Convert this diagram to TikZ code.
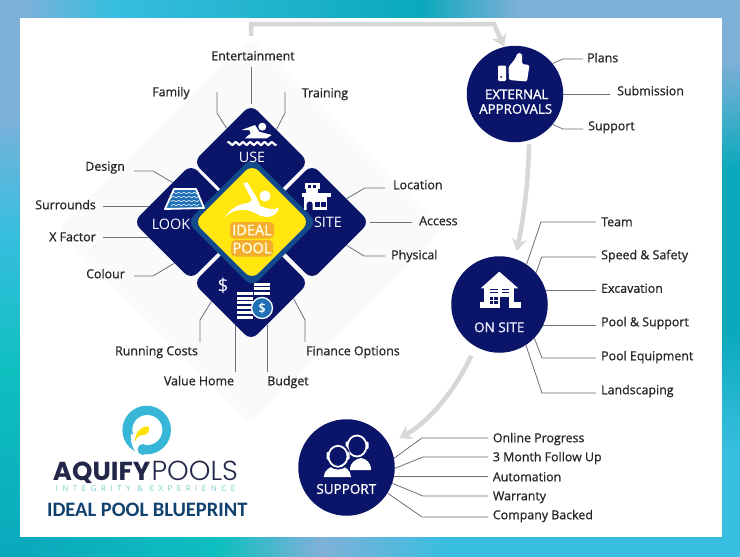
\documentclass[tikz,border=0pt]{standalone}
\usepackage{fontspec}
\setmainfont{Open Sans}
\newfontfamily\lblfont{Open Sans}[FakeBold=0.8]
\newfontfamily\capfont{Open Sans}[FakeBold=1.2]
\newfontfamily\wordbold{Poppins}[UprightFont=* Bold]
\newfontfamily\wordlight{Poppins}[UprightFont=* Light]
\newfontfamily\tagfont{Open Sans}[LetterSpace=56]
\newfontfamily\bluefont{Carlito}[UprightFont=* Bold]
\usetikzlibrary{shapes.geometric,arrows.meta}
\definecolor{navy}{HTML}{0A1468}
\definecolor{ringblue}{HTML}{124A8C}
\definecolor{sunny}{HTML}{FFE60F}
\definecolor{wiregray}{HTML}{6C7080}
\definecolor{flowgray}{HTML}{D6D7D7}
\definecolor{paneblue}{HTML}{1F6FB5}
\definecolor{skyA}{HTML}{7FB0D8}
\definecolor{skyB}{HTML}{38BEE0}
\definecolor{tealA}{HTML}{0AA9BC}
\definecolor{tealB}{HTML}{0FBFC0}
\definecolor{logoblue}{HTML}{38B6D8}
\definecolor{glow}{HTML}{F4AE2E}
\definecolor{wordnavy}{HTML}{23284A}
\definecolor{tagteal}{HTML}{7CCBCD}
\definecolor{printblue}{HTML}{11426F}
\begin{document}
\begin{tikzpicture}
[
  x=1pt,y=-1pt,
  lbl/.style={inner xsep=4pt,inner ysep=4pt,text height=9pt,text depth=2.5pt,font=\lblfont\fontsize{12.4}{14}\selectfont,text=black!85},
  tilecap/.style={inner sep=0pt,text=white,font=\fontsize{14.4}{17}\selectfont},
  disccap/.style={inner sep=0pt,text=white,font=\capfont\fontsize{13.3}{15}\selectfont},
  tile/.style={diamond,shape aspect=1,minimum size=115.5pt,inner sep=0pt,rounded corners=9pt,fill=navy},
  disc/.style={circle,minimum size=96.5pt,inner sep=0pt,fill=navy},
  wire/.style={draw=wiregray,line width=0.8pt},
  flow/.style={draw=flowgray,line width=4.5pt,-{Stealth[length=12pt,width=15pt,inset=4pt]}}
]
\useasboundingbox (0,0) rectangle (740,557);

\foreach \ya/\yb/\ca/\cb in {0/110/skyA/skyA,110/230/skyA/skyB,230/370/skyB/tealB,370/557/tealB/tealA}
  \shade[top color=\ca,bottom color=\cb] (0,\ya) rectangle (20,\yb);
\foreach \ya/\yb/\ca/\cb in {0/60/skyA/skyA,60/170/skyA/tealA,170/330/tealA/tealA,330/450/tealA/skyB,450/557/skyB/skyB}
  \shade[top color=\ca,bottom color=\cb] (722,\ya) rectangle (740,\yb);
\foreach \xa/\xb/\ca/\cb in {20/110/skyA/skyB,110/420/skyB/tealA,420/520/tealA/skyA,520/722/skyA/skyA}
  \shade[left color=\ca,right color=\cb] (\xa,0) rectangle (\xb,18);
\foreach \xa/\xb/\ca/\cb in {20/220/tealA/tealB,220/320/tealB/skyA,320/450/skyA/skyB,450/722/skyB/skyB}
  \shade[left color=\ca,right color=\cb] (\xa,537) rectangle (\xb,557);
\fill[white] (20,18) rectangle (722,537);

\fill[black!2,rounded corners=8pt] (250,38) -- (442,230) -- (250,424) -- (58,230) -- cycle;

\node[tile] (use) at (251,162) {};
\node[tile] (look) at (191,222) {};
\node[tile] (site) at (312,222) {};
\node[tile] (cost) at (251,283) {};
\node[diamond,shape aspect=1,minimum size=130pt,inner sep=0pt,rounded corners=9pt,fill=ringblue] (halo) at (252,222) {};
\node[diamond,shape aspect=1,minimum size=115.5pt,inner sep=0pt,rounded corners=9pt,fill=sunny] (pool) at (252,222) {};

\node[disc] (ext) at (515,94) {};
\node[disc] (onsite) at (499.5,304.5) {};
\node[disc] (supp) at (346.5,467.5) {};

\coordinate (eTop) at (251,36);
\draw[flow] (eTop) -- (251,24) -- (494,24) -- (ext.103);
\draw[flow,shorten <=4pt,shorten >=8pt] (ext.-73) .. controls (528,185) and (524,215) .. (onsite.71);
\draw[flow,shorten <=10pt,shorten >=12pt] (onsite.-120) .. controls (458,385) and (432,420) .. (supp.29);

% use
\node[lbl] (lEnter) at (253,57) {Entertainment};
\node[lbl] (lFamily) at (171,93) {Family};
\node[lbl] (lTrain) at (325,94) {Training};
\coordinate (eFamily) at (217,92);
\coordinate (eTrain) at (285,92);
\draw[wire] (use.north) -- (use.north |- lEnter.south);
\draw[wire] (use.126) -- (217,113) -- (eFamily);
\draw[wire] (use.52) -- (285,113) -- (eTrain);

% look
\node[lbl,anchor=east,inner xsep=9pt] (lDesign) at (134,167.5) {Design};
\node[lbl,anchor=east,inner xsep=7pt] (lSurr) at (103,206) {Surrounds};
\node[lbl,anchor=east,inner xsep=7pt] (lX) at (103,238) {X Factor};
\node[lbl,anchor=east,inner xsep=9pt] (lColour) at (134,275) {Colour};
\draw[wire] (look.115) -- (153,171) -- (lDesign.east |- 0,171);
\draw[wire] (look.160) -- (lSurr.east |- look.160);
\draw[wire] (look.-160) -- (lX.east |- look.-160);
\draw[wire] (look.-112) -- (153,276) -- (lColour.east |- 0,276);

% site
\node[lbl,anchor=west,inner xsep=8pt] (lLoc) at (385,186) {Location};
\node[lbl,anchor=west,inner xsep=7pt] (lAccess) at (412,222) {Access};
\node[lbl,anchor=west,inner xsep=6pt] (lPhys) at (385,256) {Physical};
\draw[wire] (site.34) -- (365,188) -- (lLoc.west |- 0,188);
\draw[wire] (site.east) -- (lAccess.west);
\draw[wire] (site.-34) -- (364,256) -- (lPhys.west);

% cost
\node[lbl] (lRun) at (156.5,352) {Running Costs};
\node[lbl] (lValue) at (199,382) {Value Home};
\node[lbl] (lBudget) at (288,382) {Budget};
\node[lbl] (lFin) at (353,352) {Finance Options};
\draw[wire] (cost.-155) -- (200,320) -- (200,320 |- lRun.north);
\draw[wire] (cost.-111) -- (cost.-111 |- lValue.north);
\draw[wire] (cost.-69) -- (cost.-69 |- lBudget.north);
\draw[wire] (cost.-20) -- (305,320) -- (305,320 |- lFin.north);

% external approvals
\node[lbl,anchor=west] (lPlans) at (583,59) {Plans};
\node[lbl,anchor=west,inner xsep=7pt] (lSub) at (610,92) {Submission};
\node[lbl,anchor=west,inner xsep=5pt] (lSupport) at (583,127) {Support};
\draw[wire] (ext.39) -- (563,59) -- (lPlans.west);
\draw[wire] (ext.east) -- (lSub.west |- 0,94);
\draw[wire] (ext.-39) -- (563,129) -- (lSupport.west |- 0,129);

% on site
\node[lbl,anchor=west,inner xsep=5pt] (lTeam) at (596,223) {Team};
\node[lbl,anchor=west,inner xsep=5pt] (lSpeed) at (596,256) {Speed \& Safety};
\node[lbl,anchor=west,inner xsep=5pt] (lExc) at (596,289.5) {Excavation};
\node[lbl,anchor=west,inner xsep=5pt] (lPoolS) at (596,323) {Pool \& Support};
\node[lbl,anchor=west,inner xsep=5pt] (lEquip) at (596,357) {Pool Equipment};
\node[lbl,anchor=west,inner xsep=5pt] (lLand) at (596,391) {Landscaping};
\draw[wire] (onsite.56.5) -- (541,222) -- (lTeam.west |- 0,222);
\draw[wire] (onsite.41) -- (541.7,257) -- (lSpeed.west |- 0,257);
\draw[wire] (onsite.17) -- (lExc.west |- onsite.17);
\draw[wire] (onsite.-25) -- (lPoolS.west |- onsite.-25);
\draw[wire] (onsite.-44) -- (542,358) -- (lEquip.west |- 0,358);
\draw[wire] (onsite.-57) -- (542,393) -- (lLand.west |- 0,393);

% support
\node[lbl,anchor=west,inner xsep=4.7pt] (lOnline) at (488,439) {Online Progress};
\node[lbl,anchor=west,inner xsep=4.7pt] (lMonth) at (488,458) {3 Month Follow Up};
\node[lbl,anchor=west,inner xsep=4.7pt] (lAuto) at (488,478) {Automation};
\node[lbl,anchor=west,inner xsep=4.7pt] (lWarr) at (488,497) {Warranty};
\node[lbl,anchor=west,inner xsep=4.7pt] (lComp) at (488,516) {Company Backed};
\draw[wire] (supp.11) -- (422,438) -- (lOnline.west |- 0,438);
\draw[wire] (supp.-1) -- (423,457) -- (lMonth.west |- 0,457);
\draw[wire] (supp.-10) -- (lAuto.west |- supp.-10);
\draw[wire] (supp.-19) -- (423,496) -- (lWarr.west |- 0,496);
\draw[wire] (supp.-32) -- (422,517) -- (lComp.west |- 0,517);

% tile texts
\node[tilecap] (tUse) at (252,157) {USE};
\node[tilecap] (tLook) at (171,224) {LOOK};
\node[tilecap] (tSite) at (328,222) {SITE};
\node[tilecap,font=\fontsize{19}{21}\selectfont] (tDollar) at (223,286) {\$};

% swimmer
\fill[white] (262.3,126.7) circle (4pt);
\fill[white] (241.7,130) -- (255,125) -- (259.3,131.7) -- (271.7,135) -- (266.7,138.3) -- (245,138.3) -- (250.7,133.3) -- (249.3,130) -- cycle;
\draw[white,line width=2.2pt,line cap=round] plot[domain=228:276,samples=60] (\x,{143.5+1.3*sin(\x*50)});

% pool
\draw[white,line width=1.8pt,line join=round,fill=paneblue] (174,189) -- (196,189) -- (204,208) -- (165,209) -- cycle;
\foreach \y in {193,197,201,205}
  \draw[white,line width=0.5pt] plot[domain=171:199,samples=30] (\x,{\y+0.7*sin(\x*70)});

% building
\fill[white] (305,183.3) rectangle (320,189);
\fill[white] (306,189) rectangle (318,192.7);
\fill[white] (301.7,192.7) rectangle (330.7,196.7);
\fill[white] (304,196.7) rectangle (326.7,210);
\fill[navy] (306.7,210) -- (306.7,204.5) arc[start angle=180,end angle=0,radius=3pt] -- (312.7,210) -- cycle;
\fill[navy] (315,202.3) rectangle (319.5,206.7);
\fill[navy] (321,202.3) rectangle (325.5,206.7);
\fill[navy] (308,185) rectangle (311,187.5);
\fill[navy] (313,185) rectangle (316,187.5);

% ideal pool
\fill[white] (265,196) circle (5.5pt);
\fill[white] (243.3,183.3) -- (247.3,182.3) -- (256.7,198) -- (260,205) -- (246.7,204.3) -- (252,200) -- cycle;
\fill[white] (225,216.7) .. controls (234,204) and (248,201) .. (256,204) .. controls (265,208) and (272,211) .. (279,207.7) .. controls (277,216) and (267,220) .. (257,214) .. controls (247,208) and (235,208) .. (225,216.7) -- cycle;
\fill[glow,rounded corners=4pt] (230,222) rectangle (274,238.5);
\fill[glow,rounded corners=4pt] (231,240) rectangle (273,256.5);
\node[tilecap,font=\capfont\fontsize{14.5}{17}\selectfont,text=yellow!12] (tIdeal) at (252,230) {IDEAL};
\node[tilecap,font=\capfont\fontsize{14.5}{17}\selectfont,text=yellow!12] (tPool) at (252,248) {POOL};

% coins
\foreach \y in {292,296.7,301.4,306.1,310.8,315.5}
  \fill[white] (237,\y) rectangle (253,\y+3);
\foreach \y in {283,287.4,291.8}
  \fill[white] (254,\y) rectangle (270,\y+3);
\node[circle,draw=white,line width=1.3pt,fill=paneblue,minimum size=21pt,inner sep=0pt,text=white,font=\capfont\fontsize{13}{15}\selectfont] (coin) at (262,308) {\$};

% thumb
\fill[white,rounded corners=1.2pt] (498,65.5) rectangle (506,81);
\fill[navy] (501,77) circle (1pt);
\fill[white,rounded corners=1.5pt] (508.5,67) -- (515,59) -- (517.5,53) -- (522,53.5) -- (522,64) -- (529.5,65) -- (527,81.5) -- (509,80) -- cycle;
\node[disccap] (tExt) at (516.7,94.3) {EXTERNAL};
\node[disccap] (tApp) at (515.7,109) {APPROVALS};

% house
\fill[white] (499.3,271.7) -- (518.3,288.3) -- (480.7,288.3) -- cycle;
\fill[white] (484,288) rectangle (514,308);
\fill[white] (480,302) rectangle (485,308);
\fill[white] (514,302) rectangle (521,308);
\fill[navy] (500,297) rectangle (509,308);
\fill[navy] (490,288.5) rectangle (498,290);
\fill[navy] (490,291.5) rectangle (498,293);
\fill[navy] (502,288.5) rectangle (509,290);
\fill[navy] (502,291.5) rectangle (509,293);
\fill[navy] (489.5,297) rectangle (497.5,304);
\draw[white,line width=0.7pt] (493.5,297) -- (493.5,304) (489.5,300.5) -- (497.5,300.5);
\node[disccap,font=\capfont\fontsize{13.5}{16}\selectfont,text=blue!8] (tOn) at (499.3,327.3) {ON SITE};

% agents
\fill[white] (350,470) .. controls (350,462) and (356,459) .. (361,458) .. controls (366,459) and (371,462) .. (371,470) -- cycle;
\draw[white,line width=1.8pt,fill=navy] (357,446) ellipse (9.5pt and 10.5pt);
\fill[white,rounded corners=1pt] (345.5,441.5) rectangle (348,449);
\fill[white,rounded corners=1pt] (366,441.5) rectangle (368.5,449);
\fill[white] (323.7,477) .. controls (323.7,470) and (331,466) .. (337.7,465) .. controls (345,466) and (351,470) .. (351,477) -- cycle;
\draw[navy,line width=1.5pt,fill=navy] (338,456.3) ellipse (11.5pt and 12.5pt);
\draw[white,line width=1.8pt] (338,456.3) ellipse (9.5pt and 10.5pt);
\fill[white,rounded corners=1pt] (326.5,452) rectangle (329,459.5);
\fill[white,rounded corners=1pt] (347,452) rectangle (349.5,459.5);
\draw[white,line width=1pt] (347,462) -- (340,466);
\node[disccap,font=\capfont\fontsize{13.5}{16}\selectfont] (tSupp) at (346.3,489) {SUPPORT};

% logo
\fill[logoblue] (146.7,430) circle (24.3pt);
\fill[white] (147.3,430) circle (15pt);
\fill[white] (131,434) .. controls (130,444) and (134,451) .. (139,456) -- (144,445) -- (150,442) -- cycle;
\fill[logoblue] (143,449.5) circle (5.5pt);
\fill[yellow!85!orange] (135,441.7) .. controls (135,433) and (140,426) .. (148.5,426.5) .. controls (151,431) and (147,436) .. (142,435) .. controls (139,435.5) and (136,438) .. (135,441.7) -- cycle;
\node[inner sep=0pt,anchor=east,text=wordnavy,font=\wordbold\fontsize{26}{26}\selectfont,text height=17pt,text depth=0pt] (aquify) at (150.5,471.7) {AQUIFY};
\node[inner sep=0pt,anchor=west,text=wordnavy,font=\wordlight\fontsize{27.5}{26}\selectfont,text height=17pt,text depth=0pt] (pools) at (151.5,471.7) {POOLS};
\node[inner sep=0pt,text=tagteal,font=\tagfont\fontsize{8}{10}\selectfont] (tag) at (145.5,488.7) {INTEGRITY \& EXPERIENCE};
\node[inner sep=0pt,text=printblue,font=\bluefont\fontsize{20.5}{23}\selectfont] (blue) at (147.3,510) {IDEAL POOL BLUEPRINT};

\end{tikzpicture}
\end{document}
